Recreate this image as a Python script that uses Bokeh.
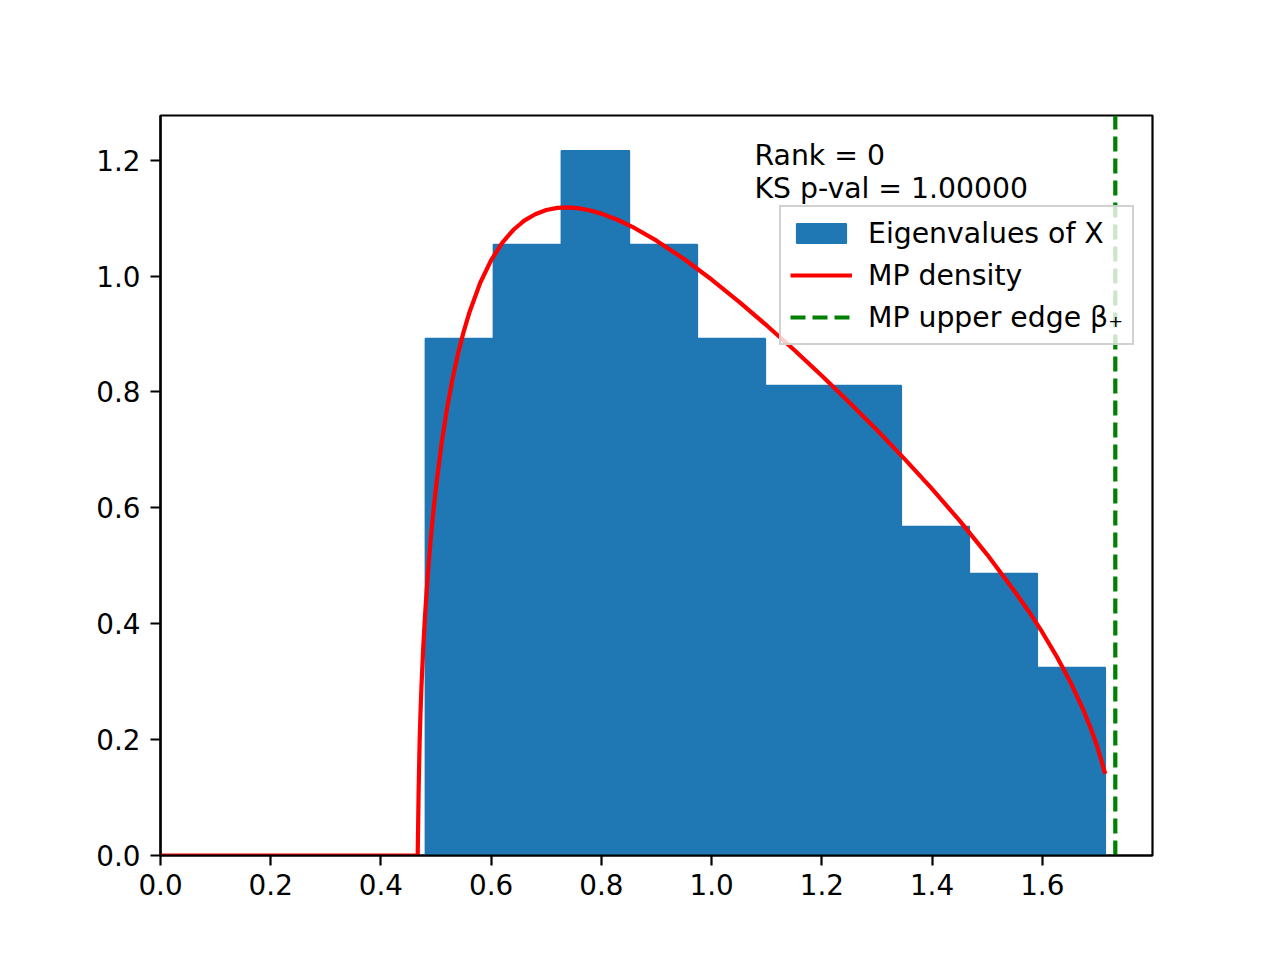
from bokeh.plotting import figure
from bokeh.models import Range1d, FixedTicker, Label, Legend, LegendItem, BasicTickFormatter
from bokeh.embed import file_html
from bokeh.resources import INLINE

# ---- data ----
bin_edges = [0.4807, 0.6041, 0.7274, 0.8508, 0.9741, 1.0975,
             1.2209, 1.3442, 1.4676, 1.5909, 1.7143]
bin_density = [0.8919, 1.0541, 1.2162, 1.0541, 0.8919,
               0.8108, 0.8108, 0.5676, 0.4865, 0.3243]

mp_x = [0.0, 0.4667, 0.4684, 0.4701, 0.4718, 0.4735, 0.477, 0.48, 0.485, 0.49,
        0.495, 0.50, 0.51, 0.52, 0.53, 0.54, 0.55, 0.56, 0.58, 0.60,
        0.62, 0.64, 0.66, 0.68, 0.70, 0.72, 0.74, 0.76, 0.78, 0.80,
        0.83, 0.86, 0.90, 0.95, 1.00, 1.05, 1.10, 1.15, 1.20, 1.25,
        1.30, 1.35, 1.40, 1.45, 1.50, 1.55, 1.575, 1.60, 1.625, 1.65,
        1.675, 1.69, 1.70, 1.7143]
mp_density = [0.0, 0.0, 0.1118, 0.1923, 0.2471, 0.2911, 0.3635, 0.4142, 0.4843, 0.5425,
              0.5927, 0.6366, 0.7110, 0.7719, 0.8229, 0.8663, 0.9036, 0.9357, 0.9879, 1.0273,
              1.0572, 1.0794, 1.0956, 1.1067, 1.1139, 1.1176, 1.1184, 1.1168, 1.1131, 1.1077,
              1.0967, 1.0829, 1.0610, 1.0293, 0.9939, 0.9554, 0.9147, 0.8723, 0.8280, 0.7819,
              0.7342, 0.6845, 0.6326, 0.5778, 0.5193, 0.4557, 0.4220, 0.3853, 0.3454, 0.3012,
              0.2503, 0.2145, 0.1872, 0.1408]

beta_plus = 1.7325

x_ticks = [0.0, 0.2, 0.4, 0.6, 0.8, 1.0, 1.2, 1.4, 1.6]
x_tick_labels = ["0.0", "0.2", "0.4", "0.6", "0.8", "1.0", "1.2", "1.4", "1.6"]
y_ticks = [0.0, 0.2, 0.4, 0.6, 0.8, 1.0, 1.2]
y_tick_labels = ["0.0", "0.2", "0.4", "0.6", "0.8", "1.0", "1.2"]

rank_text = "Rank = 0"
ks_text = "KS p-val = 1.00000"
legend_labels = ["Eigenvalues of X", "MP density", "MP upper edge \u03b2\u208a"]

FONT = "DejaVu Sans"
FS_TICK = "27.8px"
FS_TEXT = "28.3px"
BLUE = "#1f77b4"

X_END = 1.05 * max(bin_edges)
Y_END = 1.05 * max(bin_density)

p = figure(width=1264, height=944, output_backend="svg", toolbar_location=None,
           x_range=Range1d(0, X_END), y_range=Range1d(0, Y_END),
           min_border_left=160, min_border_right=112,
           min_border_top=115, min_border_bottom=89)

bars = p.quad(left=bin_edges[:-1], right=bin_edges[1:], bottom=0, top=bin_density,
              fill_color=BLUE, line_color=BLUE, line_width=1.6)
curve = p.line(mp_x, mp_density, line_color="red", line_width=4.2)
edge = p.line([beta_plus, beta_plus], [0, Y_END], line_color="green",
              line_width=4.2, line_dash="15 7")

# axes
p.xaxis.ticker = FixedTicker(ticks=x_ticks)
p.yaxis.ticker = FixedTicker(ticks=y_ticks)
p.xaxis.formatter = BasicTickFormatter(precision=1)
p.yaxis.formatter = BasicTickFormatter(precision=1)
p.xaxis.major_label_overrides = dict(zip(x_ticks, x_tick_labels))
p.yaxis.major_label_overrides = dict(zip(y_ticks, y_tick_labels))
for ax in (p.xaxis[0], p.yaxis[0]):
    ax.axis_line_color = "black"
    ax.axis_line_width = 2.2
    ax.major_tick_line_color = "black"
    ax.major_tick_line_width = 2.2
    ax.major_tick_out = 10
    ax.major_tick_in = 0
    ax.minor_tick_line_color = None
    ax.major_label_text_font = FONT
    ax.major_label_text_font_size = FS_TICK
    ax.major_label_text_color = "black"
p.xaxis.major_label_standoff = 8
p.yaxis.major_label_standoff = 10
p.xgrid.visible = False
p.ygrid.visible = False
p.outline_line_color = "black"
p.outline_line_width = 2.2
p.outline_line_alpha = 1.0

# annotation text
p.add_layout(Label(x=594, y=700, x_units="screen", y_units="screen", text=rank_text,
                   text_font=FONT, text_font_size=FS_TEXT, text_baseline="alphabetic",
                   text_color="black"))
p.add_layout(Label(x=594, y=667, x_units="screen", y_units="screen", text=ks_text,
                   text_font=FONT, text_font_size=FS_TEXT, text_baseline="alphabetic",
                   text_color="black"))

legend = Legend(items=[LegendItem(label=legend_labels[0], renderers=[bars]),
                       LegendItem(label=legend_labels[1], renderers=[curve]),
                       LegendItem(label=legend_labels[2], renderers=[edge])],
                location=(619, 510))
legend.margin = 0
legend.padding = 9
legend.spacing = 8
legend.glyph_width = 62
legend.glyph_height = 24
legend.label_height = 34
legend.label_standoff = 16
legend.label_text_font = FONT
legend.label_text_font_size = FS_TEXT
legend.label_text_color = "black"
legend.background_fill_color = "white"
legend.background_fill_alpha = 0.8
legend.border_line_color = "#cccccc"
legend.border_line_width = 2
legend.border_line_alpha = 0.9
p.add_layout(legend)

open("out.html", "w").write(file_html(p, INLINE))
